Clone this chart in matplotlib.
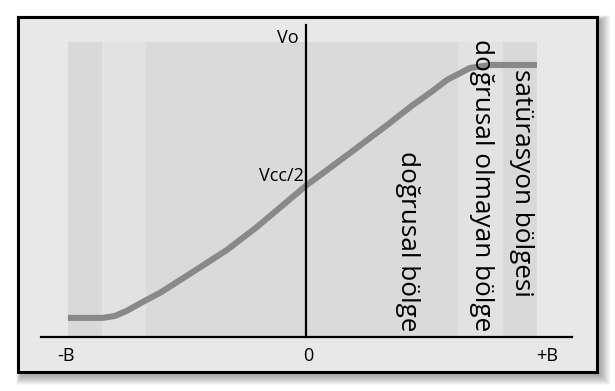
import matplotlib.pyplot as plt
from matplotlib.patches import Rectangle

plt.rcParams['font.family'] = ['Open Sans', 'DejaVu Sans']

# transfer curve, Vin in units of B, Vo in units of Vcc
vin = [-1.013, -0.864, -0.813, -0.762, -0.694, -0.621, -0.481, -0.336, -0.209,
       0.004, 0.187, 0.345, 0.455, 0.532, 0.600, 0.698, 0.783, 0.983]
vo = [0.070, 0.070, 0.077, 0.096, 0.129, 0.162, 0.239, 0.320, 0.404,
      0.559, 0.676, 0.779, 0.853, 0.90, 0.945, 0.989, 1.000, 1.000]

# shaded regions: edges and colours
bolge_sinir = [-1.013, -0.868, -0.681, 0.647, 0.838, 0.983]
bolge_renk = ['#d9d9d9', '#e2e2e2', '#dadada', '#e2e2e2', '#d9d9d9']
bolge_ust = 1.085

bolge_adlari = ['doğrusal bölge', 'doğrusal olmayan bölge', 'satürasyon bölgesi']
bolge_x = [0.434, 0.749, 0.919]
bolge_y = [0.352, 0.559, 0.566]

x_etiket = ['-B', '0', '+B']
x_etiket_pos = [-1.02, 0.009, 1.026]
y_etiket = ['Vo', 'Vcc/2']
y_etiket_pos = [1.099, 0.592]
y_etiket_x = [-0.03, -0.008]

fig = plt.figure(figsize=(6.15, 3.91), dpi=100)
fig.patch.set_facecolor('white')
ax = fig.add_axes([0, 0, 1, 1])
ax.set_xlim(-1.302, 1.315)
ax.set_ylim(-0.199, 1.239)
ax.axis('off')

# frame with soft shadow
fx, fy, fw, fh = 18 / 615, 1 - 372 / 391, 579 / 615, 355 / 391
for i in range(10, 0, -1):
    dx = i / 615
    dy = i / 391
    ax.add_patch(Rectangle((fx + 3 / 615 - dx * 0.5, fy - 3 / 391 - dy),
                           fw + dx * 1.5, fh + dy * 1.5,
                           transform=fig.transFigure, facecolor='black',
                           edgecolor='none', alpha=0.035, zorder=0))
ax.add_patch(Rectangle((fx, fy), fw, fh, transform=fig.transFigure,
                       facecolor='#e8e8e8', edgecolor='black', lw=2.2, zorder=1))

for i in range(len(bolge_renk)):
    ax.fill_between([bolge_sinir[i], bolge_sinir[i + 1]], 0, bolge_ust,
                    color=bolge_renk[i], lw=0, zorder=2)

# axes
ax.plot([-1.128, 1.132], [0, 0], color='black', lw=1.6, zorder=4)
ax.plot([0, 0], [0, 1.147], color='black', lw=1.6, zorder=4)

ax.plot(vin, vo, color='#898989', lw=4.4, solid_joinstyle='round',
        solid_capstyle='butt', zorder=3)

for t, xp in zip(x_etiket, x_etiket_pos):
    ax.text(xp, -0.07, t, ha='center', va='center', fontsize=13, zorder=5)
for t, xp, yp in zip(y_etiket, y_etiket_x, y_etiket_pos):
    ax.text(xp, yp, t, ha='right', va='center', fontsize=13, zorder=5)

for t, xp, yp in zip(bolge_adlari, bolge_x, bolge_y):
    ax.text(xp, yp, t, rotation=-90, ha='center', va='center',
            fontsize=18.8, zorder=5)

fig.savefig('out.png', dpi=100, facecolor='white')
